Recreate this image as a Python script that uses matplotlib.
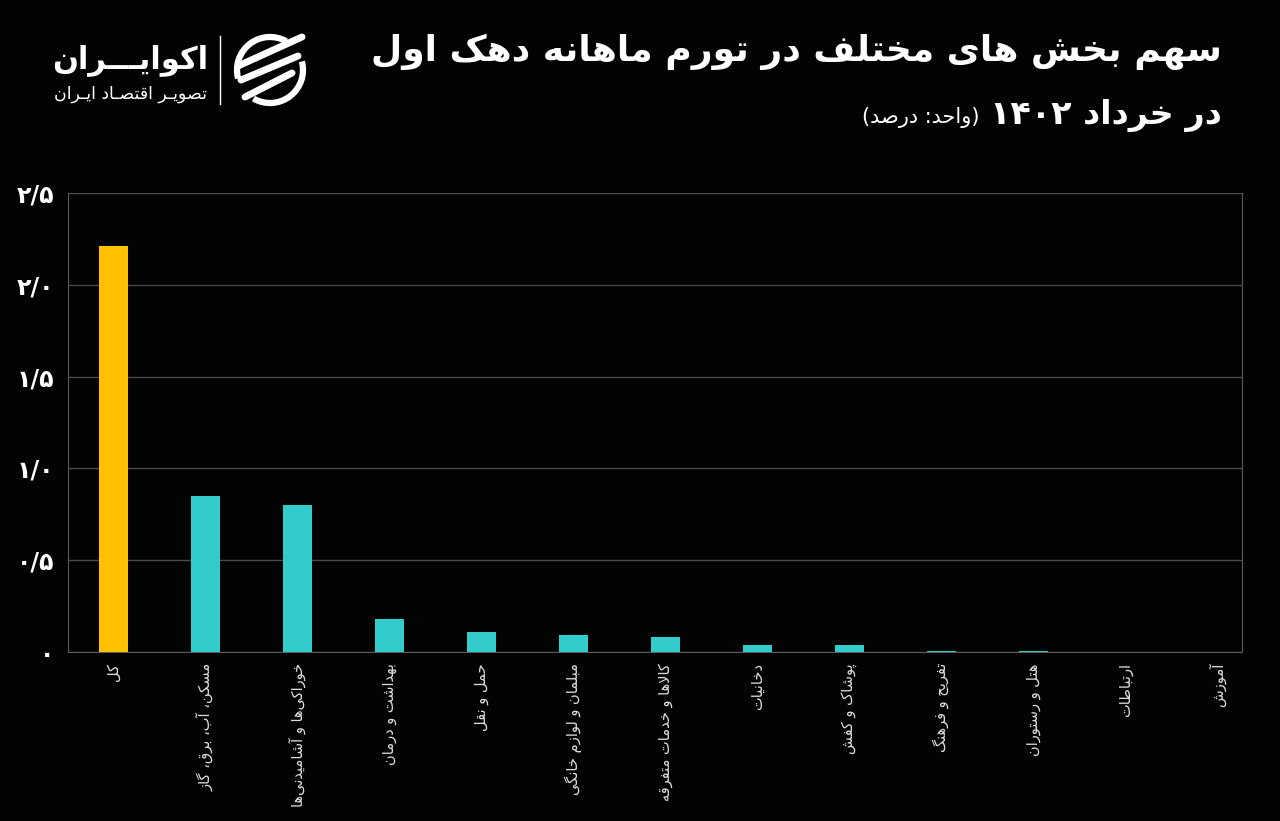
import re
import matplotlib
matplotlib.use("Agg")
import matplotlib.pyplot as plt
from matplotlib.patches import Arc

# ---- data ----
categories = ["کل", "مسکن، آب، برق، گاز", "خوراکی\u200cها و آشامیدنی\u200cها", "بهداشت و درمان",
              "حمل و نقل", "مبلمان و لوازم خانگی", "کالاها و خدمات متفرقه", "دخانیات",
              "پوشاک و کفش", "تفریح و فرهنگ", "هتل و رستوران", "ارتباطات", "آموزش"]
values = [2.21, 0.85, 0.80, 0.18, 0.11, 0.09, 0.08, 0.04, 0.04, 0.005, 0.005, 0.0, 0.0]
yticks = [0, 0.5, 1.0, 1.5, 2.0, 2.5]
ytick_labels = ["۰", "۰/۵", "۱/۰", "۱/۵", "۲/۰", "۲/۵"]

title1 = "سهم بخش های مختلف در تورم ماهانه دهک اول"
title2 = "در خرداد ۱۴۰۲"
unit = "(واحد: درصد)"

# ---- tiny persian shaper (matplotlib has no bidi / joining) ----
# letter: (isolated, final, initial, medial); two forms = joins to the right only
FORMS = {
    "ا": ("\uFE8D", "\uFE8E"), "آ": ("\uFE81", "\uFE82"),
    "ب": ("\uFE8F", "\uFE90", "\uFE91", "\uFE92"), "پ": ("\uFB56", "\uFB57", "\uFB58", "\uFB59"),
    "ت": ("\uFE95", "\uFE96", "\uFE97", "\uFE98"), "ث": ("\uFE99", "\uFE9A", "\uFE9B", "\uFE9C"),
    "ج": ("\uFE9D", "\uFE9E", "\uFE9F", "\uFEA0"), "چ": ("\uFB7A", "\uFB7B", "\uFB7C", "\uFB7D"),
    "ح": ("\uFEA1", "\uFEA2", "\uFEA3", "\uFEA4"), "خ": ("\uFEA5", "\uFEA6", "\uFEA7", "\uFEA8"),
    "د": ("\uFEA9", "\uFEAA"), "ذ": ("\uFEAB", "\uFEAC"), "ر": ("\uFEAD", "\uFEAE"),
    "ز": ("\uFEAF", "\uFEB0"), "ژ": ("\uFB8A", "\uFB8B"),
    "س": ("\uFEB1", "\uFEB2", "\uFEB3", "\uFEB4"), "ش": ("\uFEB5", "\uFEB6", "\uFEB7", "\uFEB8"),
    "ص": ("\uFEB9", "\uFEBA", "\uFEBB", "\uFEBC"), "ض": ("\uFEBD", "\uFEBE", "\uFEBF", "\uFEC0"),
    "ط": ("\uFEC1", "\uFEC2", "\uFEC3", "\uFEC4"), "ظ": ("\uFEC5", "\uFEC6", "\uFEC7", "\uFEC8"),
    "ع": ("\uFEC9", "\uFECA", "\uFECB", "\uFECC"), "غ": ("\uFECD", "\uFECE", "\uFECF", "\uFED0"),
    "ف": ("\uFED1", "\uFED2", "\uFED3", "\uFED4"), "ق": ("\uFED5", "\uFED6", "\uFED7", "\uFED8"),
    "ک": ("\uFB8E", "\uFB8F", "\uFB90", "\uFB91"), "گ": ("\uFB92", "\uFB93", "\uFB94", "\uFB95"),
    "ل": ("\uFEDD", "\uFEDE", "\uFEDF", "\uFEE0"), "م": ("\uFEE1", "\uFEE2", "\uFEE3", "\uFEE4"),
    "ن": ("\uFEE5", "\uFEE6", "\uFEE7", "\uFEE8"), "ه": ("\uFEE9", "\uFEEA", "\uFEEB", "\uFEEC"),
    "و": ("\uFEED", "\uFEEE"), "ی": ("\uFBFC", "\uFBFD", "\uFBFE", "\uFBFF"),
    "ـ": ("ـ", "ـ", "ـ", "ـ"),
}
LAM_ALEF = {"ا": ("\uFEFB", "\uFEFC"), "آ": ("\uFEF5", "\uFEF6")}


def joins_next(c):
    return c in FORMS and len(FORMS[c]) == 4


def fa(s):
    out = []
    i = 0
    n = len(s)
    while i < n:
        c = s[i]
        if c == "\u200c":
            i += 1
            continue
        if c not in FORMS:
            out.append(c)
            i += 1
            continue
        prev = s[i - 1] if i > 0 else ""
        pj = joins_next(prev)
        nxt = s[i + 1] if i + 1 < n else ""
        if c == "ل" and nxt in LAM_ALEF:
            out.append(LAM_ALEF[nxt][1 if pj else 0])
            i += 2
            continue
        nj = joins_next(c) and nxt in FORMS
        f = FORMS[c]
        if pj and nj:
            out.append(f[3])
        elif pj:
            out.append(f[1])
        elif nj:
            out.append(f[2])
        else:
            out.append(f[0])
        i += 1
    vis = "".join(out)[::-1]
    vis = re.sub(r"[0-9\u06F0-\u06F9/\.]+", lambda m: m.group(0)[::-1], vis)
    return vis.translate(str.maketrans("()", ")("))


W, H = 1280, 821
BG = "#030303"
plt.rcParams["font.family"] = ["DejaVu Sans"]
fig = plt.figure(figsize=(W / 100, H / 100), dpi=100, facecolor=BG)


def px(x, y):
    return x / W, 1 - y / H


ax = fig.add_axes([68 / W, 1 - 652 / H, (1242 - 68) / W, (652 - 193) / H])
ax.set_facecolor(BG)

colors = ["#FFC000"] + ["#33CCCC"] * (len(values) - 1)
x = list(range(len(categories)))
ax.bar(x, values, width=0.315, color=colors, zorder=3)

ax.set_xlim(-0.49, 12.27)
ax.set_ylim(0, 2.5)
ax.set_yticks(yticks)
ax.set_yticklabels(ytick_labels, fontsize=17, fontweight="bold", color="white")
ax.set_xticks(x)
ax.set_xticklabels([fa(c) for c in categories], rotation=90, fontsize=10.5, color="#dddddd")
ax.tick_params(axis="both", length=0)
ax.tick_params(axis="y", pad=10)
ax.tick_params(axis="x", pad=8)
ax.grid(axis="y", color="#4a4a4a", linewidth=1, zorder=0)
for side in ["left", "right", "bottom", "top"]:
    ax.spines[side].set_color("#5a5a5a")
ax.spines["top"].set_visible(False)

# titles
fig.text(*px(1222, 52), fa(title1), ha="right", va="center", fontsize=26,
         fontweight="bold", color="white")
fig.text(*px(1222, 115), fa(title2), ha="right", va="center", fontsize=24,
         fontweight="bold", color="white")
fig.text(*px(979, 117), fa(unit), ha="right", va="center", fontsize=15, color="white")

# logo
fig.text(*px(130, 60), fa("اکوایـــران"), ha="center", va="center", fontsize=22,
         fontweight="bold", color="white")
fig.text(*px(130, 94), fa("تصویـر اقتصـاد ایـران"), ha="center", va="center",
         fontsize=12.5, color="white")

lg = fig.add_axes([0, 0, 1, 1], zorder=5)
lg.set_xlim(0, W)
lg.set_ylim(H, 0)
lg.axis("off")
lg.patch.set_alpha(0)
lg.plot([220, 220], [36, 104], color="white", linewidth=1)
lg.add_patch(Arc((270, 70), 66, 66, theta1=165, theta2=300, color="white", linewidth=4.5))
lg.add_patch(Arc((270, 70), 66, 66, theta1=-15, theta2=120, color="white", linewidth=4.5))
for (x0, y0, x1, y1) in [(238, 66, 302, 37), (241, 80, 298, 56), (245, 97, 292, 73)]:
    lg.plot([x0, x1], [y0, y1], color="white", linewidth=5, solid_capstyle="round")

fig.savefig("out.png", dpi=100, facecolor=fig.get_facecolor())
